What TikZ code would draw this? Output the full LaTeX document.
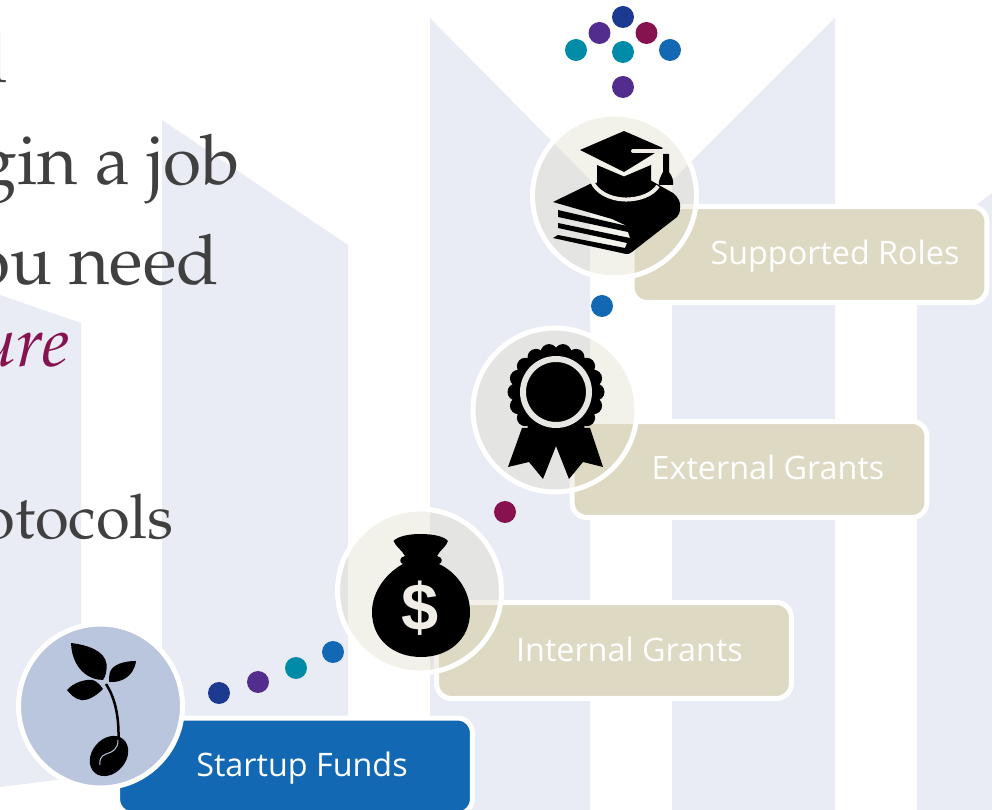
\documentclass[tikz,border=0pt]{standalone}
\usepackage{fontspec}
\usepackage[T1,TU]{fontenc}
\newfontfamily\labelfont{Open Sans}
\newfontfamily\signfont{Liberation Sans}
\newcommand{\bodyfont}{\fontencoding{T1}\fontfamily{ppl}\fontsize{39.5}{48}\selectfont}
\newcommand{\smallbodyfont}{\fontencoding{T1}\fontfamily{ppl}\fontsize{35}{42}\selectfont}
\definecolor{palemark}{HTML}{E9EBF5}
\definecolor{boxtan}{HTML}{DDD9C3}
\definecolor{boxblue}{HTML}{1268B3}
\definecolor{seedblue}{HTML}{BAC6DD}
\definecolor{bodygrey}{HTML}{404040}
\definecolor{dotnavy}{HTML}{1C3A8F}
\definecolor{dotpurple}{HTML}{532D8E}
\definecolor{dotcrimson}{HTML}{86124F}
\definecolor{dotteal}{HTML}{008BA8}
\definecolor{iconlight}{HTML}{EFEDE6}
\definecolor{medalring}{HTML}{E6E6E2}
\tikzset{
  stagebox/.style={rectangle,rounded corners=0.3cm,draw=white,line width=0.1cm,
    minimum width=7.1cm,minimum height=1.92cm,inner sep=0pt,outer sep=0pt},
  stagering/.style={circle,draw=white,line width=0.1cm,minimum size=3.28cm,
    inner sep=0pt,outer sep=0pt},
  stagelabel/.style={anchor=base,text=white,inner sep=0pt,font=\labelfont\fontsize{18.4}{22}\selectfont},
  stagedot/.style={circle,minimum size=0.44cm,inner sep=0pt,outer sep=0pt},
  bodyline/.style={anchor=base east,inner sep=0pt,text=bodygrey,font=\bodyfont}
}

\begin{document}
\begin{tikzpicture}[x=0.02cm,y=-0.02cm]
  \useasboundingbox (0,0) rectangle (992,810);
  \clip (0,0) rectangle (992,810);

  % Draw the pale marks behind everything
  \fill[palemark] (0,295) -- (81,323) -- (81,777) -- (0,787) -- cycle;
  \fill[palemark] (162,120) -- (348,245) -- (348,810) -- (162,810) -- cycle;
  \fill[palemark] (430,18) -- (590,180) -- (590,810) -- (430,810) -- cycle;
  \fill[palemark] (835,18) -- (672,181) -- (672,810) -- (835,810) -- cycle;
  \fill[palemark] (917,250) -- (992,193) -- (992,810) -- (917,810) -- cycle;

  % Body text, cut off by the left edge
  \node[bodyline] (lineone) at (8,83) {l};
  \node[bodyline] (linetwo) at (240,185) {gin a job};
  \node[bodyline] (linethree) at (219,285) {ou need};
  \node[bodyline,text=dotcrimson] (linefour) at (70,367) {\itshape ure};
  \node[bodyline,font=\smallbodyfont] (linefive) at (174,539) {otocols};

  % Label boxes
  \node[stagebox,fill=boxblue] (startupbox) at (295,766) {};
  \node[stagebox,fill=boxtan] (internalbox) at (614,650.5) {};
  \node[stagebox,fill=boxtan] (externalbox) at (749.5,469.5) {};
  \node[stagebox,fill=boxtan] (supportedbox) at (809.5,254.5) {};

  \node[stagelabel] (startuplabel) at (302,777) {Startup Funds};
  \node[stagelabel] (internallabel) at (629.5,661.5) {Internal Grants};
  \node[stagelabel] (externallabel) at (768,480) {External Grants};
  \node[stagelabel] (supportedlabel) at (835,265) {Supported Roles};

  % Circles over the boxes
  \node[stagering,fill=seedblue] (seedring) at (100.5,706) {};
  \node[stagering,fill=boxtan,fill opacity=0.35] (bagring) at (419.5,591) {};
  \node[stagering,fill=boxtan,fill opacity=0.35] (medalring) at (555,410) {};
  \node[stagering,fill=boxtan,fill opacity=0.35] (capring) at (614.5,196) {};

  % Dots
  \foreach \dotname/\dotx/\doty/\dotcol in {
    a/623/17/dotnavy, b/599.5/33/dotpurple, c/646.5/33/dotcrimson,
    d/576/50/dotteal, e/623/52/dotteal, f/670/50/boxblue, g/623/87/dotpurple,
    h/602/306/boxblue, i/505/512/dotcrimson, j/333/652/boxblue,
    k/296/668/dotteal, l/258/682/dotpurple, m/219/693/dotnavy}
    \node[stagedot,fill=\dotcol] (dot\dotname) at (\dotx,\doty) {};

  % Seedling icon
  \fill[black] (71,643) .. controls (88,645) and (105,651) .. (106.5,664) .. controls (107,670) and (106,676) .. (103,680) .. controls (88,680) and (72,668) .. cycle;
  \fill[black] (136,661) .. controls (125,661) and (113,664) .. (110,672) .. controls (109,676) and (109,679) .. (109,682) .. controls (122,683) and (134,676) .. cycle;
  \fill[black] (67,690) .. controls (74,682) and (86,679) .. (93,680) .. controls (98,682) and (101,686) .. (103,689) .. controls (96,696) and (88,701) .. (81,700) .. controls (75,699) and (70,694) .. cycle;
  \draw[black,line width=0.05cm] (106,684) .. controls (114,696) and (119,714) .. (118.5,738);
  \fill[black,rotate around={50:(109,756)}] (109,756) ellipse [x radius=22,y radius=17];
  \draw[seedblue,line width=0.02cm] (118,740) .. controls (118,749) and (113,752) .. (106,754) .. controls (101,756) and (99,760) .. (100,765);

  % Money bag icon
  \fill[black] (393.5,541) .. controls (398,536) and (410,534) .. (420,534) .. controls (432,534) and (444,536) .. (448,541) .. controls (446,547) and (440,550) .. (437,556) .. controls (443,557) and (443,563) .. (439,564) .. controls (456,572) and (470,590) .. (470,612) .. controls (470,640) and (448,657) .. (421,657) .. controls (394,657) and (372,640) .. (372,612) .. controls (372,590) and (388,572) .. (403,564) .. controls (399,563) and (399,557) .. (405,556) .. controls (402,550) and (396,547) .. cycle;
  \node[text=iconlight,inner sep=0pt,font=\signfont\bfseries\fontsize{38}{42}\selectfont] (bagsign) at (420,608) {\$};

  % Medal icon
  \fill[black] (522,428) -- (508,467) -- (529,462) -- (543,479) -- (556,446) -- (569,479) -- (583,462) -- (603,467) -- (590,428) -- cycle;
  \fill[black] (556,392) circle (41);
  \foreach \petal in {0,20,...,340}
    \fill[black] (556,392) ++(\petal:40) circle (8.5);
  \draw[medalring,line width=0.12cm] (556,392) circle (33);

  % Books and cap icon
  \fill[black] (553,202) -- (592,183) -- (650,180) -- (673,193) .. controls (679,198) and (681,203) .. (680,208) .. controls (680,212) and (679,215) .. (677,217) -- (632,252) .. controls (630,254) and (628,254) .. (626,254) -- (553,238) -- (558,235) -- (625,248) -- (627,243) -- (558,228) -- (558,223) -- (630,238) -- (628,232) -- (558,217) -- (558,210) -- (627,226) -- (612,219) -- cycle;
  \draw[iconlight,line width=0.08cm] (592,181) .. controls (596,192) and (610,199) .. (624,199.5) .. controls (640,200) and (653,194) .. (658,186);
  \fill[black] (597,165) -- (624,176.5) -- (651,165) -- (651,183) .. controls (646,192) and (634,196) .. (624,196) .. controls (612,196) and (602,192) .. (597,183) -- cycle;
  \fill[black] (580,150) -- (624,131) -- (663,148) -- (624,172) -- cycle;
  \draw[iconlight,line width=0.08cm,line cap=round] (633,151) -- (666,151);
  \fill[black] (663,154) -- (669,154) -- (669,172) .. controls (672,176) and (674,181) .. (673,185) -- (659,185) .. controls (658,181) and (661,176) .. (663,172) -- cycle;

\end{tikzpicture}
\end{document}
